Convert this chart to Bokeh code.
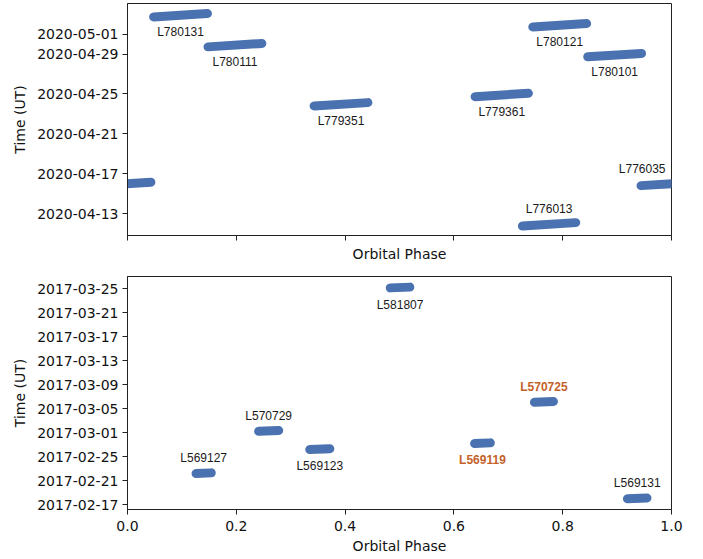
import pandas as pd
from bokeh.plotting import figure
from bokeh.layouts import column
from bokeh.models import (ColumnDataSource, Range1d, FixedTicker,
                          DatetimeTickFormatter, PrintfTickFormatter,
                          CustomJSTickFormatter)
from bokeh.core.properties import value
from bokeh.embed import file_html
from bokeh.resources import INLINE

# ---------------- data ----------------
# 2020 campaign (top panel)
top_ids = ["L780131", "L780111", "L779351", "L779361",
           "L780121", "L780101", "L776035", "L776013"]
top_phase_start = [0.048, 0.148, 0.343, 0.639, 0.745, 0.846, 0.944, 0.726]
top_phase_end = [0.147, 0.247, 0.442, 0.737, 0.844, 0.945, 1.043, 0.824]
top_time_start = ["2020-05-02 17:30", "2020-04-29 17:30", "2020-04-23 19:10",
                  "2020-04-24 17:30", "2020-05-01 17:30", "2020-04-28 17:30",
                  "2020-04-15 19:10", "2020-04-11 17:40"]
top_time_end = ["2020-05-03 01:40", "2020-04-30 01:40", "2020-04-24 03:10",
                "2020-04-25 01:40", "2020-05-02 01:40", "2020-04-29 01:40",
                "2020-04-16 03:20", "2020-04-12 02:00"]
top_label_side = ["below", "below", "below", "below",
                  "below", "below", "above", "above"]
top_highlight = [False] * 8
top_ticks = ["2020-04-13", "2020-04-17", "2020-04-21",
             "2020-04-25", "2020-04-29", "2020-05-01"]
top_ylim = ["2020-04-10 19:00", "2020-05-04 02:00"]

# 2017 campaign (bottom panel)
bot_ids = ["L569127", "L570729", "L569123", "L581807",
           "L569119", "L570725", "L569131"]
bot_phase_start = [0.126, 0.241, 0.335, 0.483, 0.638, 0.748, 0.919]
bot_phase_end = [0.154, 0.278, 0.372, 0.519, 0.667, 0.783, 0.955]
bot_time_start = ["2017-02-22 04:00", "2017-03-01 05:00", "2017-02-26 04:00",
                  "2017-03-25 02:30", "2017-02-27 04:00", "2017-03-06 01:00",
                  "2017-02-17 23:00"]
bot_time_end = ["2017-02-22 06:30", "2017-03-01 08:00", "2017-02-26 07:00",
                "2017-03-25 05:30", "2017-02-27 06:30", "2017-03-06 04:00",
                "2017-02-18 02:00"]
bot_label_side = ["above", "above", "below", "below", "below", "above", "above"]
bot_highlight = [False, False, False, False, True, True, False]
bot_ticks = ["2017-02-17", "2017-02-21", "2017-02-25", "2017-03-01",
             "2017-03-05", "2017-03-09", "2017-03-13", "2017-03-17",
             "2017-03-21", "2017-03-25"]
bot_ylim = ["2017-02-16 04:00", "2017-03-27 00:00"]

phase_ticks = [0.0, 0.2, 0.4, 0.6, 0.8, 1.0]

# ---------------- style ----------------
BLUE = "#4a72b0"
ORANGE = "#c4622a"
AX = "#222222"
TICK_FONT = "DejaVu Sans"
LABEL_FONT = "Liberation Sans"


def ms(s):
    return pd.Timestamp(s).value / 1e6


def make_panel(height, border_top, border_bottom, ids, ps, pe, ts, te,
               side, highlight, ticks, ylim, show_xlabels):
    p = figure(width=703, height=height, output_backend="svg",
               toolbar_location=None, y_axis_type="datetime",
               x_range=Range1d(0, 1),
               y_range=Range1d(ms(ylim[0]), ms(ylim[1])),
               min_border_left=127, min_border_right=32,
               min_border_top=border_top, min_border_bottom=border_bottom)
    p.grid.visible = False
    p.outline_line_color = AX
    p.outline_line_width = 1
    p.background_fill_color = "white"
    p.border_fill_color = "white"

    # segments, with wrap-around copies for phases beyond 1
    x0, x1, y0, y1 = [], [], [], []
    for a, b, t0, t1 in zip(ps, pe, ts, te):
        x0.append(a); x1.append(b); y0.append(ms(t0)); y1.append(ms(t1))
        if b > 1:
            x0.append(a - 1); x1.append(b - 1); y0.append(ms(t0)); y1.append(ms(t1))
    p.segment(x0=x0, y0=y0, x1=x1, y1=y1, line_color=BLUE,
              line_width=9, line_cap="round")

    # labels
    lx, ly, lt, lyo, lxo, lal, lcol, lsty = [], [], [], [], [], [], [], []
    for name, a, b, t0, t1, sd, hl in zip(ids, ps, pe, ts, te, side, highlight):
        mid = (a + b) / 2
        ymid = (ms(t0) + ms(t1)) / 2
        if b > 1:
            lx.append(1.0); lal.append("right"); lxo.append(-6)
        else:
            lx.append(mid); lal.append("center"); lxo.append(0)
        ly.append(ymid)
        lt.append(name)
        lyo.append(17 if sd == "below" else -15)
        lcol.append(ORANGE if hl else "#1a1a1a")
        lsty.append("bold" if hl else "normal")
    src = ColumnDataSource(dict(x=lx, y=ly, text=lt, yo=lyo, xo=lxo,
                                align=lal, color=lcol, style=lsty))
    p.text(x="x", y="y", text="text", source=src, x_offset="xo",
           y_offset="yo", text_align="align", text_baseline="middle",
           text_color="color", text_font_style="style",
           text_font=value(LABEL_FONT), text_font_size=value("12px"))

    # axes
    for ax in (p.xaxis[0], p.yaxis[0]):
        ax.axis_line_color = AX
        ax.major_tick_line_color = AX
        ax.major_tick_in = 0
        ax.major_tick_out = 5
        ax.minor_tick_line_color = None
        ax.major_label_text_font = TICK_FONT
        ax.major_label_text_font_size = "14px"
        ax.major_label_text_color = "#111111"
        ax.axis_label_text_font = TICK_FONT
        ax.axis_label_text_font_size = "14px"
        ax.axis_label_text_font_style = "normal"
        ax.axis_label_text_color = "#111111"

    p.yaxis.ticker = FixedTicker(ticks=[ms(t) for t in ticks])
    fmt = "%Y-%m-%d"
    p.yaxis.formatter = DatetimeTickFormatter(
        microseconds=fmt, milliseconds=fmt, seconds=fmt, minsec=fmt,
        minutes=fmt, hourmin=fmt, hours=fmt, days=fmt, months=fmt,
        years=fmt, boundary_scaling=False, strip_leading_zeros=False)
    p.yaxis.major_label_standoff = 4
    p.yaxis.axis_label = "Time (UT)"
    p.yaxis.axis_label_standoff = 6

    p.xaxis.ticker = FixedTicker(ticks=phase_ticks)
    p.xaxis.axis_label = "Orbital Phase"
    if show_xlabels:
        p.xaxis.formatter = PrintfTickFormatter(format="%.1f")
        p.xaxis.major_label_standoff = 6
        p.xaxis.axis_label_standoff = 4
    else:
        p.xaxis.formatter = CustomJSTickFormatter(code="return '';")
        p.xaxis.major_label_standoff = 0
        p.xaxis.axis_label_standoff = 5
    return p


p1 = make_panel(270, 3, 35, top_ids, top_phase_start, top_phase_end,
                top_time_start, top_time_end, top_label_side, top_highlight,
                top_ticks, top_ylim, False)
p2 = make_panel(289, 6, 50, bot_ids, bot_phase_start, bot_phase_end,
                bot_time_start, bot_time_end, bot_label_side, bot_highlight,
                bot_ticks, bot_ylim, True)

layout = column(p1, p2, spacing=0)
open("out.html", "w").write(file_html(layout, INLINE))
